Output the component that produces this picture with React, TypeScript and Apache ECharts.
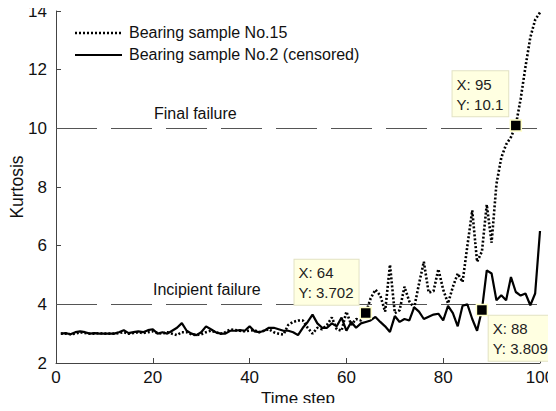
import React, { useEffect, useRef } from "react";
import * as echarts from "echarts";

const timeSteps: number[] = Array.from({ length: 100 }, (_, i) => i + 1);

const sample15: number[] = [
  3.0, 3.0, 2.98, 3.0, 3.05, 3.02, 3.0, 3.0, 3.02, 3.0,
  3.0, 3.0, 3.02, 3.05, 3.0, 3.02, 3.05, 3.02, 3.05, 3.08,
  3.02, 3.0, 3.05, 3.0, 2.95, 3.05, 3.05, 2.98, 2.95, 2.98,
  3.05, 3.1, 3.05, 3.0, 3.05, 3.15, 3.12, 3.1, 3.08, 3.1,
  3.12, 3.05, 3.1, 3.15, 3.05, 3.0, 2.97, 3.3, 3.4, 3.45,
  3.45, 3.2, 3.0, 3.2, 3.15, 3.3, 3.55, 3.15, 3.1, 3.75,
  3.3, 3.5, 3.45, 3.702, 4.2, 4.5, 4.3, 3.75, 5.35, 3.7,
  3.8, 4.6, 4.1, 3.88, 4.7, 5.45, 4.4, 4.45, 5.2, 4.5,
  4.03, 4.6, 5.05, 4.76, 6.0, 7.2, 5.45, 5.8, 7.4, 6.1,
  8.1, 9.0, 9.45, 9.7, 10.1, 11.0, 12.1, 13.1, 13.7, 13.95,
];

const sample2: number[] = [
  3.0, 3.02, 2.98, 3.05, 3.08, 3.05, 3.0, 3.02, 3.0, 3.0,
  3.0, 3.0, 3.05, 3.12, 3.02, 3.05, 3.08, 3.05, 3.12, 3.15,
  3.0, 3.05, 3.0, 3.1, 3.2, 3.36, 3.1, 3.0, 2.95, 3.05,
  3.25, 3.15, 3.05, 3.0, 3.0, 3.1, 3.1, 3.12, 3.1, 3.25,
  3.08, 3.05, 3.1, 3.2, 3.2, 3.15, 3.1, 3.1, 3.05, 2.95,
  3.2, 3.4, 3.65, 3.35, 3.2, 3.2, 3.35, 3.25, 3.55, 3.1,
  3.4, 3.2, 3.35, 3.4, 3.45, 3.57, 3.4, 3.25, 3.06, 3.6,
  3.4, 3.5, 3.45, 3.9, 3.75, 3.5, 3.58, 3.65, 3.68, 3.45,
  3.95, 3.7, 3.25, 3.95, 4.0, 3.5, 3.1, 3.809, 5.16, 5.05,
  4.14, 4.31, 4.14, 4.93, 4.42, 4.3, 4.37, 3.97, 4.37, 6.5,
];

const xTicks = { min: 0, max: 100, interval: 20 };
const yTicks = { min: 2, max: 14, interval: 2 };
const thresholds = [
  { name: "Final failure", value: 10 },
  { name: "Incipient failure", value: 4 },
];
const legendNames = ["Bearing sample No.15", "Bearing sample No.2 (censored)"];

const FONT = "'Liberation Sans', Arial, sans-serif";

const tipLabel = (pos: number[]) => ({
  show: true,
  position: pos,
  formatter: (p: any) => `X: ${p.data.coord[0]}\nY: ${p.data.coord[1]}`,
  backgroundColor: "#ffffe1",
  borderColor: "#e2e2c4",
  borderWidth: 1,
  padding: [3, 5, 2, 4],
  fontSize: 15,
  lineHeight: 20,
  color: "#222",
  fontFamily: FONT,
});

export default function App() {
  const ref = useRef<HTMLDivElement>(null);
  useEffect(() => {
    if (!ref.current) return;
    const chart = echarts.init(ref.current, null, { renderer: "svg" });
    const axisLine = { show: true, lineStyle: { color: "#444", width: 1 } };
    chart.setOption({
      animation: false,
      backgroundColor: "#fff",
      grid: {
        left: 56,
        right: 16,
        top: 11,
        bottom: 48,
        containLabel: false,
        outerBoundsMode: "none",
      },
      xAxis: {
        type: "value",
        min: xTicks.min,
        max: xTicks.max,
        interval: xTicks.interval,
        name: "Time step",
        nameLocation: "middle",
        nameGap: 27,
        nameMoveOverlap: false,
        nameTextStyle: { fontSize: 17, color: "#111", fontFamily: FONT },
        axisLine,
        axisTick: { show: true, inside: true, length: 5, lineStyle: { color: "#444" } },
        axisLabel: { fontSize: 17, color: "#111", fontFamily: FONT, margin: 6 },
        splitLine: { show: false },
      },
      yAxis: {
        type: "value",
        min: yTicks.min,
        max: yTicks.max,
        interval: yTicks.interval,
        name: "Kurtosis",
        nameLocation: "middle",
        nameGap: 30,
        nameMoveOverlap: false,
        nameTextStyle: { fontSize: 17.5, color: "#111", fontFamily: FONT },
        axisLine,
        axisTick: { show: true, inside: true, length: 5, lineStyle: { color: "#444" } },
        axisLabel: { fontSize: 17, color: "#111", fontFamily: FONT, margin: 9 },
        splitLine: { show: false },
      },
      series: [
        {
          name: legendNames[0],
          type: "line",
          data: timeSteps.map((t, i) => [t, sample15[i]]),
          showSymbol: false,
          symbol: "none",
          lineStyle: { color: "#000", width: 2.6, type: [2, 2] },
          z: 3,
          markPoint: {
            symbol: "rect",
            symbolSize: 11,
            itemStyle: { color: "#000", borderColor: "#ffffc8", borderWidth: 1.5 },
            data: [
              { coord: [64, 3.702], label: tipLabel([-65, -47]) },
              { coord: [95, 10.1], label: tipLabel([-57, -48]) },
            ],
          },
        },
        {
          name: legendNames[1],
          type: "line",
          data: timeSteps.map((t, i) => [t, sample2[i]]),
          showSymbol: false,
          symbol: "none",
          lineStyle: { color: "#000", width: 2.2 },
          z: 3,
          markLine: {
            silent: true,
            symbol: "none",
            lineStyle: { color: "#555", width: 1.2, type: [41, 14] },
            label: { show: false },
            z: 1,
            data: thresholds.map((t) => [
              { coord: [0, t.value] },
              { coord: [99.5, t.value] },
            ]),
          },
          markPoint: {
            symbol: "rect",
            symbolSize: 11,
            itemStyle: { color: "#000", borderColor: "#ffffc8", borderWidth: 1.5 },
            data: [{ coord: [88, 3.809], label: tipLabel([13, 12]) }],
          },
        },
      ],
      graphic: [
        {
          type: "line",
          shape: { x1: 75, y1: 33, x2: 122, y2: 33 },
          style: { stroke: "#000", lineWidth: 2.6, lineDash: [2, 2] },
        },
        {
          type: "text",
          left: 129,
          top: 24,
          style: { text: legendNames[0], fontSize: 16, fill: "#111", fontFamily: FONT },
        },
        {
          type: "line",
          shape: { x1: 75, y1: 55, x2: 122, y2: 55 },
          style: { stroke: "#000", lineWidth: 2.2 },
        },
        {
          type: "text",
          left: 129,
          top: 46,
          style: { text: legendNames[1], fontSize: 16, fill: "#111", fontFamily: FONT },
        },
        {
          type: "text",
          left: 154,
          top: 105,
          style: { text: thresholds[0].name, fontSize: 16, fill: "#111", fontFamily: FONT },
        },
        {
          type: "text",
          left: 153,
          top: 281,
          style: { text: thresholds[1].name, fontSize: 16, fill: "#111", fontFamily: FONT },
        },
      ],
    });
    return () => chart.dispose();
  }, []);
  return <div ref={ref} style={{ width: 556, height: 411, margin: -8 }} />;
}
